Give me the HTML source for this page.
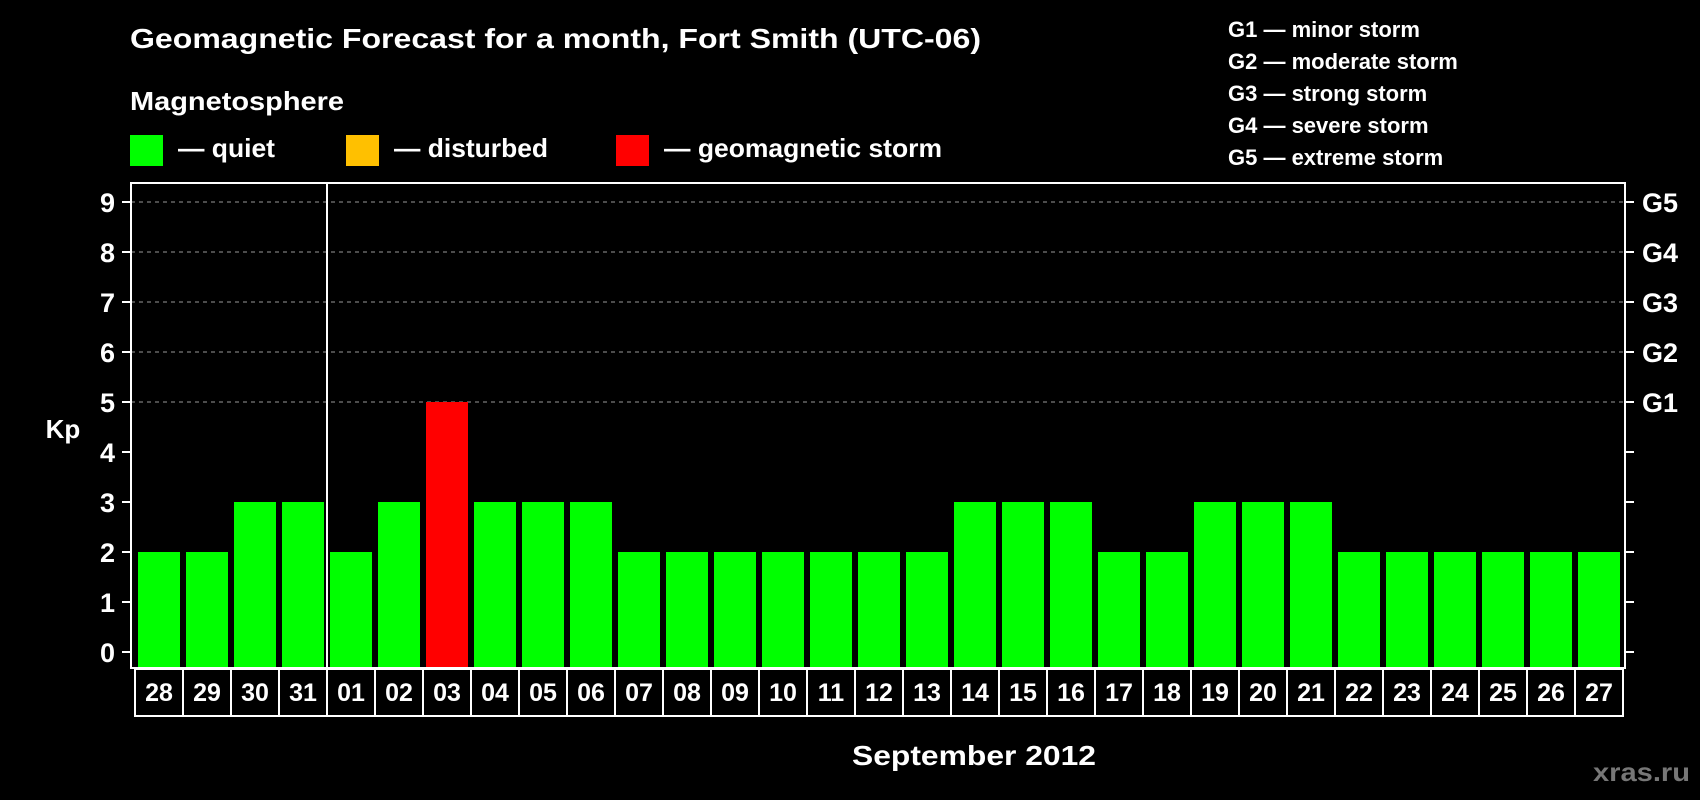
<!DOCTYPE html>
<html><head><meta charset="utf-8"><style>
html,body{margin:0;padding:0;background:#000;width:1700px;height:800px;overflow:hidden}
svg text{font-family:"Liberation Sans",sans-serif;font-weight:bold;fill:#fff}
</style></head><body>
<svg id="chart" width="1700" height="800" xmlns="http://www.w3.org/2000/svg">
<rect x="0" y="0" width="1700" height="800" fill="#000"/>
<text x="130" y="48" font-size="28" textLength="851" lengthAdjust="spacingAndGlyphs">Geomagnetic Forecast for a month, Fort Smith (UTC-06)</text>
<text x="130" y="110" font-size="26" textLength="214" lengthAdjust="spacingAndGlyphs">Magnetosphere</text>
<rect x="130" y="135" width="33" height="31" fill="#00ff00"/>
<text x="178" y="157" font-size="26" textLength="97" lengthAdjust="spacingAndGlyphs">— quiet</text>
<rect x="346" y="135" width="33" height="31" fill="#ffc000"/>
<text x="394" y="157" font-size="26" textLength="154" lengthAdjust="spacingAndGlyphs">— disturbed</text>
<rect x="616" y="135" width="33" height="31" fill="#ff0000"/>
<text x="664" y="157" font-size="26" textLength="278" lengthAdjust="spacingAndGlyphs">— geomagnetic storm</text>
<g font-size="22">
<text x="1228" y="37">G1 — minor storm</text>
<text x="1228" y="69">G2 — moderate storm</text>
<text x="1228" y="101">G3 — strong storm</text>
<text x="1228" y="133">G4 — severe storm</text>
<text x="1228" y="165">G5 — extreme storm</text>
</g>
<g id="grid"></g><g id="bars"></g><g id="axes"></g><g id="days"></g>
<text x="63" y="438" font-size="26" text-anchor="middle">Kp</text>
<text x="974" y="765" font-size="28" text-anchor="middle" textLength="244" lengthAdjust="spacingAndGlyphs">September 2012</text>
<text x="1690" y="781" font-size="26" text-anchor="end" style="fill:#777" textLength="97" lengthAdjust="spacingAndGlyphs">xras.ru</text>
</svg>
<script>
const days = ["28","29","30","31","01","02","03","04","05","06","07","08","09","10","11","12","13","14","15","16","17","18","19","20","21","22","23","24","25","26","27"];
const kpValues = [2,2,3,3,2,3,5,3,3,3,2,2,2,2,2,2,2,3,3,3,2,2,3,3,3,2,2,2,2,2,2];
const yTicks = [0,1,2,3,4,5,6,7,8,9];
const gLabels = ["G1","G2","G3","G4","G5"];
const gLevels = [5,6,7,8,9];

const NS = "http://www.w3.org/2000/svg";
const plotL = 131, plotR = 1625, plotT = 183, plotB = 668;
const cellX0 = 135, cellW = 48;
function y(v){ return 652 - v * 50; }
function x(i){ return cellX0 + i * cellW; }
function color(v){ return v >= 5 ? "#ff0000" : (v >= 4 ? "#ffc000" : "#00ff00"); }
function mk(tag, attrs, parent){ const e = document.createElementNS(NS, tag); for (const k in attrs) e.setAttribute(k, attrs[k]); parent.appendChild(e); return e; }

const grid = document.getElementById("grid"), bars = document.getElementById("bars"), axes = document.getElementById("axes"), dayG = document.getElementById("days");

gLevels.forEach((lv, i) => {
  const l = mk("line", {x1: plotL, x2: plotR, y1: y(lv), y2: y(lv), stroke: "#999", "stroke-width": 1, "stroke-dasharray": "4,4"}, grid);
  
  
  const t = mk("text", {x: 1642, y: y(lv) + 10, "font-size": 27}, axes);
  t.textContent = gLabels[i];
  
  
});

kpValues.forEach((v, i) => {
  const r = mk("rect", {x: x(i) + 3, y: y(v), width: 42, height: plotB - y(v), fill: color(v)}, bars);
  
  
});

const frame = mk("rect", {x: plotL, y: plotT, width: plotR - plotL, height: plotB - plotT, fill: "none", stroke: "#fff", "stroke-width": 2}, axes);


const sep = mk("line", {x1: x(4), x2: x(4), y1: plotT, y2: plotB, stroke: "#fff", "stroke-width": 2}, axes);



yTicks.forEach(v => {
  const tl = mk("line", {x1: 122, x2: plotL, y1: y(v), y2: y(v), stroke: "#fff", "stroke-width": 2}, axes);
  
  
  const tr = mk("line", {x1: plotR, x2: 1634, y1: y(v), y2: y(v), stroke: "#fff", "stroke-width": 2}, axes);
  
  
  const t = mk("text", {x: 115, y: y(v) + 10, "font-size": 27, "text-anchor": "end"}, axes);
  t.textContent = v;
  
  
});

days.forEach((d, i) => {
  const c = mk("rect", {x: x(i), y: 669, width: cellW, height: 47, fill: "none", stroke: "#fff", "stroke-width": 2}, dayG);
  
  
  const t = mk("text", {x: x(i) + cellW / 2, y: 701, "font-size": 25, "text-anchor": "middle"}, dayG);
  t.textContent = d;
  
  
});
</script>
</body></html>
